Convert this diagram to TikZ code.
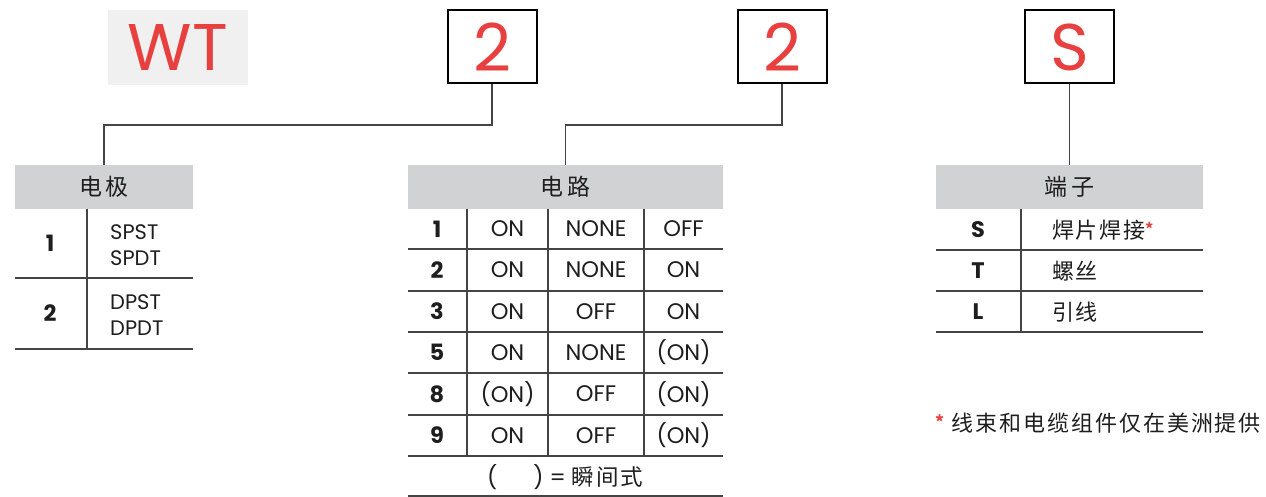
\documentclass[tikz,border=0pt]{standalone}
\usepackage{fontspec}
\setmainfont{Poppins}
\newfontfamily\cjk[LetterSpace=8]{Noto Sans CJK SC}
\newfontfamily\cjkwide[LetterSpace=15]{Noto Sans CJK SC}
\newfontfamily\cjknote[LetterSpace=9]{Noto Sans CJK SC}
\definecolor{wred}{HTML}{E8403F}
\definecolor{hgray}{HTML}{D1D2D4}
\definecolor{wtgray}{HTML}{F0F0F0}
\definecolor{lgray}{HTML}{444444}
\definecolor{ink}{HTML}{1E1E1E}
\tikzset{
  codebox/.style={draw=black,line width=2pt,minimum width=89pt,minimum height=73pt,inner sep=0pt,text=wred,font=\fontsize{66}{68}\selectfont},
  hdr/.style={fill=hgray,inner sep=0pt,font=\cjkwide\fontsize{23}{25}\selectfont,text=ink},
  conn/.style={draw=lgray,line width=1.3pt},
  rule/.style={draw=lgray,line width=1.3pt},
  cell/.style={inner sep=0pt,text=ink,font=\fontsize{22.5}{24}\selectfont},
  num/.style={inner sep=0pt,text=ink,font=\bfseries\fontsize{22.5}{24}\selectfont},
  ccell/.style={inner sep=0pt,text=ink,font=\cjk\fontsize{22}{24}\selectfont},
}
\begin{document}
\begin{tikzpicture}[x=1pt,y=-1pt]
\useasboundingbox (0,0) rectangle (1266,497);
% WT
\node[fill=wtgray,minimum width=140pt,minimum height=75pt,inner sep=0pt,text=wred,font=\fontsize{66}{68}\selectfont] (wt) at (178,48) {WT};
% code boxes
\node[codebox] (b1) at (492,47) {2};
\node[codebox] (b2) at (782,47) {2};
\node[codebox] (b3) at (1069.5,47) {S};
% headers
\node[hdr,minimum width=178pt,minimum height=44pt] (h1) at (104,187) {电极};
\node[hdr,minimum width=315pt,minimum height=44pt] (h2) at (565.5,187) {电路};
\node[hdr,minimum width=267pt,minimum height=44pt] (h3) at (1069.5,187) {端子};
% connectors
\coordinate (j1) at (104,125);
\coordinate (j2) at (565.5,125);
\draw[conn] (b1.south) |- (j1) -- (h1.north);
\draw[conn] (b2.south) |- (j2) -- (h2.north);
\draw[conn] (b3.south) -- (h3.north);
% table 1: poles
\draw[rule] (87,209) -- (87,349);
\draw[rule] (15,278) -- (193,278);
\draw[rule] (15,349) -- (193,349);
\node[num] (p1) at (50,243.5) {1};
\node[num] (p2) at (50,313.5) {2};
\node[cell,anchor=west,align=left,font=\fontsize{21}{26}\selectfont] (p1t) at (110,245) {SPST\\SPDT};
\node[cell,anchor=west,align=left,font=\fontsize{21}{26}\selectfont] (p2t) at (110,315) {DPST\\DPDT};
% table 2: circuits
\foreach \x in {467,548,644} \draw[rule] (\x,209) -- (\x,456);
\foreach \y in {249,291,332,373,415,456,496} \draw[rule] (408,\y) -- (723,\y);
\foreach \n/\a/\b/\c/\y [count=\i] in {1/ON/NONE/OFF/229, 2/ON/NONE/ON/270, 3/ON/OFF/ON/311.5, 5/ON/NONE/(ON)/352.5, 8/(ON)/OFF/(ON)/394, 9/ON/OFF/(ON)/435.5}{
  \node[num] (cn\i) at (437,\y) {\n};
  \node[cell] (ca\i) at (507.5,\y) {\a};
  \node[cell] (cb\i) at (596,\y) {\b};
  \node[cell] (cc\i) at (683.5,\y) {\c};
}
\node[cell] (foot) at (565,477) {(\hspace{36pt}) = {\cjk 瞬间式}};
% table 3: terminals
\draw[rule] (1021,209) -- (1021,332);
\foreach \y in {250,291,332} \draw[rule] (936,\y) -- (1203,\y);
\node[num] (t1) at (978,230) {S};
\node[num] (t2) at (978,271) {T};
\node[num] (t3) at (978,312) {L};
\node[ccell,anchor=west] (t1t) at (1052,230) {焊片焊接\textcolor{wred}{\bfseries\fontsize{15}{15}\selectfont\raisebox{4pt}{*}}};
\node[ccell,anchor=west] (t2t) at (1052,271) {螺丝};
\node[ccell,anchor=west] (t3t) at (1052,312) {引线};
% note
\node[inner sep=0pt,anchor=west,text=ink,font=\cjknote\fontsize{22}{24}\selectfont] (note) at (935,423) {\textcolor{wred}{\bfseries\fontsize{17}{17}\selectfont\raisebox{3pt}{*}}\hspace{7pt}线束和电缆组件仅在美洲提供};
\end{tikzpicture}
\end{document}
